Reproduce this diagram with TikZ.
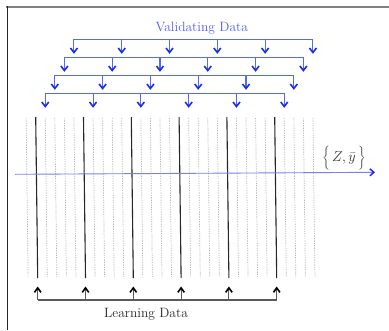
\documentclass[tikz,border=0pt]{standalone}
\usetikzlibrary{arrows.meta}
\definecolor{vshaft}{RGB}{85,105,245}
\definecolor{vtip}{RGB}{25,45,235}
\definecolor{vtext}{RGB}{80,95,235}
\definecolor{axisblue}{RGB}{120,130,230}
\tikzset{
  grid solid/.style={black!85,line width=1.1pt},
  grid dashed/.style={gray!60,line width=0.7pt,dash pattern=on 1.2pt off 1.2pt},
  valarrow/.style={vshaft,line width=1.1pt,-{Straight Barb[length=4.5pt,width=7pt,line width=1.6pt,color=vtip]}},
  learnarrow/.style={black!65,line width=1.1pt,-{Straight Barb[length=4.5pt,width=6.5pt,line width=1.6pt,color=black]}},
  axisarrow/.style={axisblue,line width=0.9pt,-{Straight Barb[length=4pt,width=7pt,line width=1.5pt,color=vtip]}},
  lbl/.style={font=\fontsize{13.5}{16}\selectfont,inner sep=1pt}
}
\begin{document}
\begin{tikzpicture}[x=1pt,y=-1pt]
\useasboundingbox (0,0) rectangle (389,330);
% frame
\draw[gray,line width=2pt] (6,6.5) -- (389,6.5);
\draw[black!85,line width=1pt] (7,6) -- (7,330);
% vertical lines
\foreach \k in {-1,...,29}{
  \pgfmathsetmacro{\xt}{35.7+9.56*\k}
  \pgfmathsetmacro{\xb}{\xt+2}
  \pgfmathtruncatemacro{\m}{mod(\k+5,5)}
  \ifnum\m=0
    \draw[grid solid] (\xt,117) -- (\xb,278);
  \else
    \draw[grid dashed] (\xt,118) -- (\xb,277);
  \fi
}
% axis
\coordinate (axL) at (15,174.3);
\coordinate (axR) at (375,172.3);
\draw[axisarrow] (axL) -- (axR);
\node[lbl,text=black!80] (zy) at (344,158) {$\left\{\vrule height 12pt depth 8pt width 0pt\,Z,\bar{y}\,\right\}$};
% validating data
\node[lbl,text=vtext] (val) at (201.7,28.3) {Validating Data};
\foreach \r in {0,1,2,3}{
  \pgfmathsetmacro{\xs}{35.7+9.56*(4-\r)}
  \pgfmathsetmacro{\xe}{\xs+47.8*5}
  \pgfmathsetmacro{\yh}{39.3+18*\r}
  \pgfmathsetmacro{\yt}{\yh+14.5}
  \coordinate (h\r s) at (\xs,\yh);
  \coordinate (h\r e) at (\xe,\yh);
  \draw[vshaft,line width=1.1pt] (h\r s) -- (h\r e);
  \foreach \j in {0,...,5}{
    \pgfmathsetmacro{\xa}{\xs+47.8*\j}
    \coordinate (v\r\j a) at (\xa,\yh);
    \coordinate (v\r\j b) at (\xa,\yt);
    \draw[valarrow] (v\r\j a) -- (v\r\j b);
  }
}
% learning data
\coordinate (ls) at (37.7,300);
\coordinate (le) at (276.7,300);
\draw[black!65,line width=1.1pt] (ls) -- (le);
\foreach \j in {0,...,5}{
  \pgfmathsetmacro{\xa}{37.7+47.8*\j}
  \coordinate (l\j a) at (\xa,300);
  \coordinate (l\j b) at (\xa,286.5);
  \draw[learnarrow] (l\j a) -- (l\j b);
}
\node[lbl,text=black!85] (learn) at (146,314) {Learning Data};
\end{tikzpicture}
\end{document}
